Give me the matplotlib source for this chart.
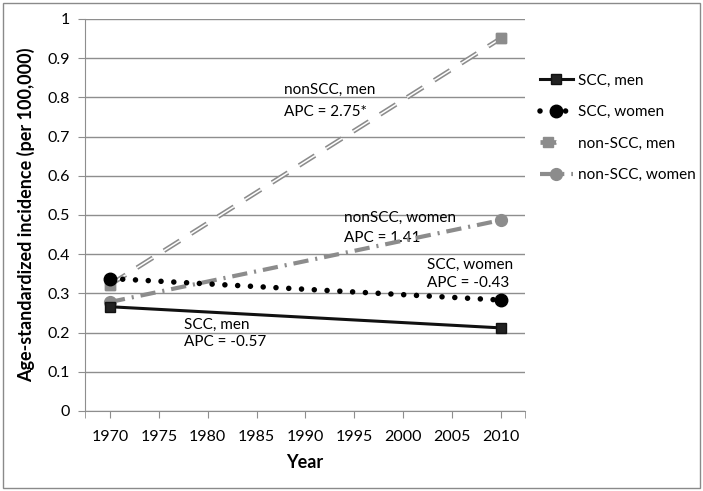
import matplotlib
matplotlib.use('Agg')
import matplotlib.pyplot as plt
from matplotlib.legend_handler import HandlerTuple
from matplotlib.patches import Rectangle

plt.rcParams['font.family'] = ['Lato', 'DejaVu Sans']
plt.rcParams['lines.scale_dashes'] = False

# data
years = [1970, 2010]
scc_men = [0.266, 0.212]
scc_women = [0.338, 0.283]
nonscc_men = [0.322, 0.951]
nonscc_women = [0.278, 0.487]
xticks = [1970, 1975, 1980, 1985, 1990, 1995, 2000, 2005, 2010]
yticks = [0, 0.1, 0.2, 0.3, 0.4, 0.5, 0.6, 0.7, 0.8, 0.9, 1]
ytick_labels = ['0', '0.1', '0.2', '0.3', '0.4', '0.5', '0.6', '0.7', '0.8', '0.9', '1']

gray = '#8c8c8c'
grid = '#8e8e8e'

fig = plt.figure(figsize=(7.03, 4.91), dpi=100)
ax = fig.add_axes([85 / 703, 80 / 491, 440 / 703, 392 / 491])

# non-SCC, men: doppelte gestrichelte Linie
ms, = ax.plot(years, nonscc_men, color=gray, lw=3.4, linestyle=(0, (13.5, 9.5)),
              marker='s', ms=7, mfc=gray, mec=gray, zorder=3)
mw, = ax.plot(years, nonscc_men, color='white', lw=1.1, linestyle=(0, (13.5, 9.5)),
              zorder=3.1)
ax.plot(years, nonscc_men, ls='none', marker='s', ms=7, mfc=gray, mec=gray, zorder=3.2)

# non-SCC, women: Strich-Punkt
nw, = ax.plot(years, nonscc_women, color=gray, lw=3.0,
              linestyle=(0, (11, 5, 1.5, 5)), marker='o', ms=8.5,
              mfc=gray, mec=gray, zorder=3.3)

# SCC, women: punktiert
sw, = ax.plot(years, scc_women, color='black', lw=4.0, linestyle=(0, (0.01, 9.2)),
              dash_capstyle='round', marker='o', ms=9, mfc='black', mec='black',
              zorder=4)

# SCC, men: durchgezogen
sm, = ax.plot(years, scc_men, color='#111111', lw=2.2, marker='s', ms=7,
              mfc='#222222', mec='#111111', zorder=5)

ax.set_xlim(1967.45, 2012.45)
ax.set_ylim(0, 1)
ax.set_xticks(xticks)
ax.set_xticks([1967.45, 2012.45], minor=True)
ax.set_yticks(yticks)
ax.set_yticklabels(ytick_labels)
ax.grid(axis='y', color=grid, lw=1)
ax.set_axisbelow(True)
for s in ['top', 'right']:
    ax.spines[s].set_visible(False)
for s in ['left', 'bottom']:
    ax.spines[s].set_color(grid)
ax.tick_params(axis='both', which='both', color=grid, length=5, labelsize=11.5)
ax.tick_params(axis='x', pad=9)
ax.tick_params(axis='y', pad=6)

ax.set_xlabel('Year', fontsize=13, fontweight='bold', labelpad=7)
ax.set_ylabel('Age-standardized incidence (per 100,000)', fontsize=13,
              fontweight='bold', labelpad=9)

# Beschriftungen
ax.text(1987.85, 0.818, 'nonSCC, men', fontsize=11, va='center')
ax.text(1987.85, 0.762, 'APC = 2.75*', fontsize=11, va='center')
ax.text(1993.9, 0.492, 'nonSCC, women', fontsize=11, va='center')
ax.text(1993.9, 0.441, 'APC = 1.41', fontsize=11, va='center')
ax.text(2002.45, 0.372, 'SCC, women', fontsize=11, va='center')
ax.text(2002.45, 0.326, 'APC = -0.43', fontsize=11, va='center')
ax.text(1977.55, 0.219, 'SCC, men', fontsize=11, va='center')
ax.text(1977.55, 0.177, 'APC = -0.57', fontsize=11, va='center')

ax.legend([sm, sw, (ms, mw), nw],
          ['SCC, men', 'SCC, women', 'non-SCC, men', 'non-SCC, women'],
          handler_map={tuple: HandlerTuple(ndivide=None)},
          loc='upper left', bbox_to_anchor=(532 / 703, 1 - 66 / 491),
          bbox_transform=fig.transFigure, frameon=False, fontsize=11,
          handlelength=2.2, handletextpad=0.3, labelspacing=1.15, numpoints=1,
          borderpad=0)

fig.patches.append(Rectangle((3 / 703, 3 / 491), 697 / 703, 485 / 491,
                             transform=fig.transFigure, fill=False,
                             edgecolor='#8a8a8a', lw=1))

fig.savefig('out.png', dpi=100)
